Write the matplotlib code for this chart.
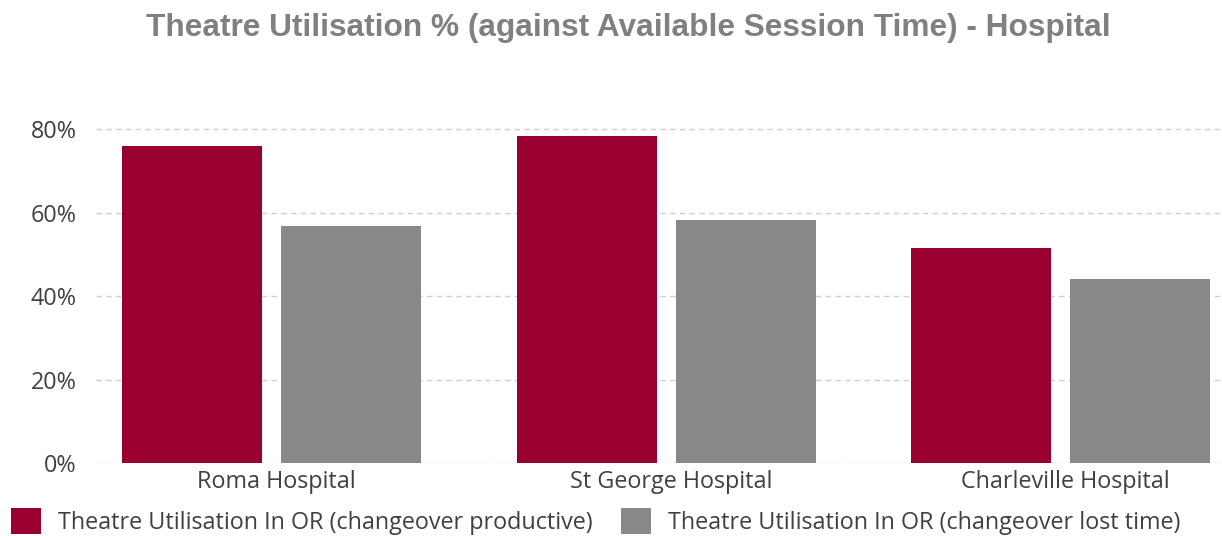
import matplotlib
matplotlib.use("Agg")
import matplotlib.pyplot as plt
import matplotlib.transforms as mtransforms
import numpy as np

categories = ["Roma Hospital", "St George Hospital", "Charleville Hospital"]
series_names = ["Theatre Utilisation In OR (changeover productive)",
                "Theatre Utilisation In OR (changeover lost time)"]
productive = [76.0, 78.4, 51.5]
lost_time = [56.8, 58.2, 44.2]
y_ticks = [0, 20, 40, 60, 80]
y_tick_labels = ["0%", "20%", "40%", "60%", "80%"]
title = "Theatre Utilisation % (against Available Session Time) - Hospital"

RED = "#990030"
GRAY = "#888888"
TXT = "#404040"
BODY = ['Open Sans', 'DejaVu Sans']

plt.rcParams['font.family'] = BODY

fig = plt.figure(figsize=(12.22, 5.36), dpi=100)
ax = fig.add_axes([96/1222, 1-463.3/536, 1126/1222, (463.3-108.4)/536])

x = np.arange(len(categories))
w = 0.355
off = 0.2015
ax.bar(x - off, productive, w, color=RED, label=series_names[0], zorder=3)
ax.bar(x + off, lost_time, w, color=GRAY, label=series_names[1], zorder=3)

ax.set_xlim(-0.445, 2.409)
ax.set_ylim(0, 85)
ax.set_yticks(y_ticks)
ax.set_yticklabels(y_tick_labels)
ax.set_xticks(x)
ax.set_xticklabels(categories)
ax.tick_params(axis='both', length=0, labelsize=16.8, colors=TXT)
ax.tick_params(axis='y', pad=14)
ax.tick_params(axis='x', pad=5)
shift = mtransforms.ScaledTranslation(5/100, 0, fig.dpi_scale_trans)
for lbl in ax.get_xticklabels():
    lbl.set_transform(lbl.get_transform() + shift)
for s in ax.spines.values():
    s.set_visible(False)
ax.yaxis.grid(True, color="#d0d0d0", linestyle=(0, (4, 3)), linewidth=1, zorder=0)
ax.set_axisbelow(True)

fig.text(0.514, 1-36/536, title, ha='center', va='baseline', fontsize=22.8,
         fontweight='bold', color="#808080", family=['Liberation Sans', 'DejaVu Sans'])

fig.legend(loc='lower left', bbox_to_anchor=(0.001, -0.015), ncol=2, frameon=False,
           fontsize=16.8, handlelength=1.29, handleheight=1.35, handletextpad=0.75,
           columnspacing=1.2, labelcolor=TXT, borderaxespad=0)

fig.savefig("out.png", dpi=100)
